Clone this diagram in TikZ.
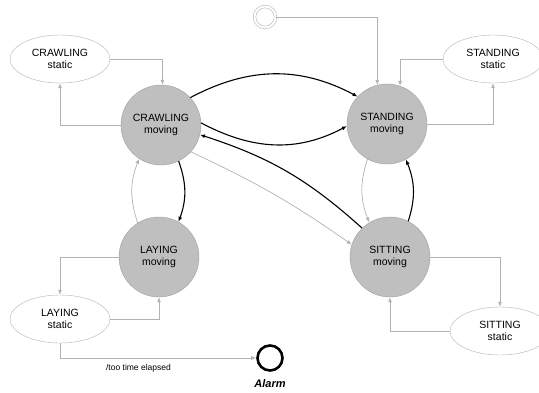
\documentclass[tikz,border=0pt]{standalone}
\usepackage{fontspec}
\setmainfont{Liberation Sans}
\usetikzlibrary{arrows.meta,shapes.geometric}

\begin{document}
\begin{tikzpicture}[x=1pt,y=1pt,
    moving/.style={circle,draw=gray!75,fill=gray!50,minimum size=80pt,inner sep=0pt,
        align=center,font=\fontsize{10.5}{12.5}\selectfont},
    static/.style={ellipse,draw=gray!60,fill=white,minimum width=100pt,minimum height=48pt,
        inner sep=0pt,align=center,font=\fontsize{10.5}{12.5}\selectfont},
    greyline/.style={draw=gray!60,line width=0.7pt,-{Latex[length=5pt,width=4pt]}},
    blackline/.style={draw=black,line width=1.1pt,-{Latex[length=5pt,width=4pt]}}]

    \useasboundingbox (0,0) rectangle (539,-392);

    % states
    \node[moving] (crawlM) at (161,-125) {CRAWLING\\moving};
    \node[moving] (stanM) at (387,-124) {STANDING\\moving};
    \node[moving] (layM) at (159,-257) {LAYING\\moving};
    \node[moving] (sitM) at (390,-257) {SITTING\\moving};
    \node[static] (crawlS) at (60,-59) {CRAWLING\\static};
    \node[static] (stanS) at (493,-59) {STANDING\\static};
    \node[static] (layS) at (60,-319) {LAYING\\static};
    \node[static] (sitS) at (500,-331) {SITTING\\static};
    \node[circle,draw=gray!55,line width=0.6pt,double=white,double distance=2pt,
        minimum size=21pt,inner sep=0pt] (init) at (265,-17) {};
    \node[circle,draw=black,line width=2.6pt,minimum size=25pt,inner sep=0pt] (alarm) at (270,-358) {};
    \node[font=\fontsize{11}{13}\selectfont\bfseries\itshape] (alarmLbl) at (270,-384) {Alarm};

    % static <-> moving
    \draw[greyline] (init.east) -| (stanM.104);
    \draw[greyline] (crawlS.east) -| (crawlM.88);
    \draw[greyline] (crawlM.180) -| (crawlS.south);
    \draw[greyline] (stanS.west) -| (stanM.71);
    \draw[greyline] (stanM.0) -| (stanS.south);
    \draw[greyline] (layM.180) -| (layS.north);
    \draw[greyline] (layS.east) -| (layM.south);
    \draw[greyline] (sitM.0) -| (sitS.north);
    \draw[greyline] (sitS.west) -| (sitM.south);
    \draw[greyline] (layS.south) |- node[pos=0.7,below=3pt,font=\fontsize{8.5}{10}\selectfont] (elapsed) {/too time elapsed} (alarm.west);

    % moving <-> moving
    \draw[blackline] (crawlM.43) to[out=28,in=152] (stanM.137);
    \draw[blackline] (crawlM.3) to[out=-28,in=208] (stanM.183);
    \draw[blackline] (sitM.134) to[bend right=12] (crawlM.346);
    \draw[greyline] (crawlM.318) to[bend left=5] (sitM.162);
    \draw[blackline] (crawlM.296) to[bend left=20] (layM.61);
    \draw[greyline] (layM.122) to[bend left=20] (crawlM.237);
    \draw[greyline] (stanM.241) to[bend right=20] (sitM.121);
    \draw[blackline] (sitM.63) to[bend right=20] (stanM.298);
\end{tikzpicture}
\end{document}
